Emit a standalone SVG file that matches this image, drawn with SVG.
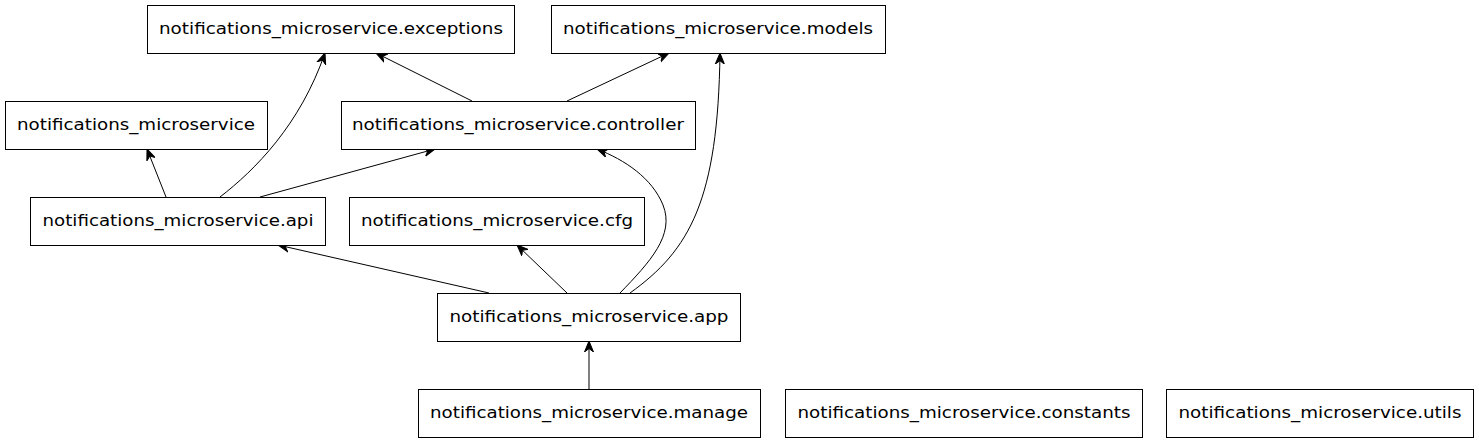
<svg xmlns="http://www.w3.org/2000/svg" width="1479" height="443" viewBox="0 0 1479 443">
<style>
.node rect{fill:#fff;stroke:#000;stroke-width:1}
.node text{font-family:"DejaVu Sans",sans-serif;font-size:15px;text-anchor:middle;fill:#000}
.edges path{fill:none;stroke:#000;stroke-width:1;marker-end:url(#vee)}
</style>
<defs>
<marker id="vee" markerUnits="userSpaceOnUse" markerWidth="13" markerHeight="11" refX="11" refY="4.5" orient="auto" viewBox="0 0 13 9">
<path d="M0,0 L11,4.5 L0,9 L3.5,4.5 Z" fill="#000" stroke="#000" stroke-width="1"/>
</marker>
</defs>
<rect width="1479" height="443" fill="#fff"/>
<g class="edges" id="edges">
<path d="M166,197 L147,149"/>
<path d="M220,197 C255,170 300,125 325,53"/>
<path d="M260,197 L435,149"/>
<path d="M472,101 L376,53"/>
<path d="M567,101 L669,53"/>
<path d="M489,293 L278,245"/>
<path d="M567,293 L517,245"/>
<path d="M620,293 C650,262 675,235 663,205 C652,178 625,160 597,149"/>
<path d="M630,293 C690,250 718,200 720,53"/>
<path d="M589,389 L589,341"/>
</g>
<g class="node" id="n_exceptions"><rect x="147.5" y="5.5" width="367" height="48"/><text x="331" y="34" textLength="344" lengthAdjust="spacingAndGlyphs">notifications_microservice.exceptions</text></g>
<g class="node" id="n_models"><rect x="551.5" y="5.5" width="334" height="48"/><text x="718" y="34" textLength="310" lengthAdjust="spacingAndGlyphs">notifications_microservice.models</text></g>
<g class="node" id="n_root"><rect x="5.5" y="101.5" width="262" height="48"/><text x="136" y="130" textLength="238" lengthAdjust="spacingAndGlyphs">notifications_microservice</text></g>
<g class="node" id="n_controller"><rect x="341.5" y="101.5" width="354" height="48"/><text x="518" y="130" textLength="332" lengthAdjust="spacingAndGlyphs">notifications_microservice.controller</text></g>
<g class="node" id="n_api"><rect x="30.5" y="197.5" width="295" height="48"/><text x="178" y="226" textLength="271" lengthAdjust="spacingAndGlyphs">notifications_microservice.api</text></g>
<g class="node" id="n_cfg"><rect x="349.5" y="197.5" width="295" height="48"/><text x="497" y="226" textLength="272" lengthAdjust="spacingAndGlyphs">notifications_microservice.cfg</text></g>
<g class="node" id="n_app"><rect x="437.5" y="293.5" width="303" height="48"/><text x="589" y="322" textLength="279" lengthAdjust="spacingAndGlyphs">notifications_microservice.app</text></g>
<g class="node" id="n_manage"><rect x="418.5" y="389.5" width="342" height="48"/><text x="589" y="418" textLength="318" lengthAdjust="spacingAndGlyphs">notifications_microservice.manage</text></g>
<g class="node" id="n_constants"><rect x="785.5" y="389.5" width="357" height="48"/><text x="964" y="418" textLength="333" lengthAdjust="spacingAndGlyphs">notifications_microservice.constants</text></g>
<g class="node" id="n_utils"><rect x="1166.5" y="389.5" width="307" height="48"/><text x="1320" y="418" textLength="283" lengthAdjust="spacingAndGlyphs">notifications_microservice.utils</text></g>
</svg>
